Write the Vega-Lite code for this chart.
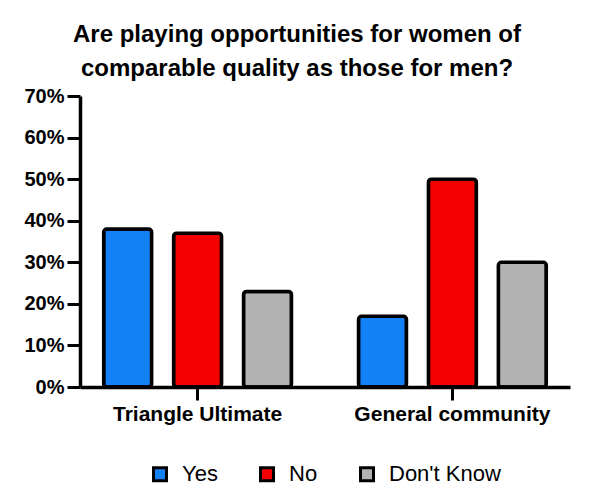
{
  "$schema": "https://vega.github.io/schema/vega-lite/v6.json",
  "autosize": "none",
  "padding": {"left": 80, "top": 96, "right": 27, "bottom": 117},
  "width": 490,
  "height": 291,
  "background": "white",
  "title": {
    "text": ["Are playing opportunities for women of", "comparable quality as those for men?"],
    "font": "Liberation Sans",
    "fontSize": 24,
    "fontWeight": "bold",
    "color": "black",
    "anchor": "middle",
    "dx": -28,
    "offset": 5,
    "lineHeight": 34
  },
  "data": {
    "values": [
      {"group": "Triangle Ultimate", "answer": "Yes", "share": 0.38},
      {"group": "Triangle Ultimate", "answer": "No", "share": 0.37},
      {"group": "Triangle Ultimate", "answer": "Don't Know", "share": 0.23},
      {"group": "General community", "answer": "Yes", "share": 0.17},
      {"group": "General community", "answer": "No", "share": 0.50},
      {"group": "General community", "answer": "Don't Know", "share": 0.30}
    ]
  },
  "mark": {"type": "bar", "stroke": "black", "strokeWidth": 3.5, "cornerRadius": 3},
  "encoding": {
    "x": {
      "field": "group",
      "type": "nominal",
      "sort": ["Triangle Ultimate", "General community"],
      "scale": {"paddingInner": 0.263, "paddingOuter": 0.093},
      "axis": {
        "title": null,
        "labelAngle": 0,
        "labelLimit": 0,
        "labelFont": "Liberation Sans",
        "labelFontSize": 21,
        "labelFontWeight": "bold",
        "labelColor": "black",
        "labelPadding": 3,
        "domainColor": "black",
        "domainWidth": 3.5,
        "tickColor": "black",
        "tickWidth": 3,
        "tickSize": 13
      }
    },
    "xOffset": {
      "field": "answer",
      "sort": ["Yes", "No", "Don't Know"],
      "scale": {"paddingInner": 0.314, "paddingOuter": 0}
    },
    "y": {
      "field": "share",
      "type": "quantitative",
      "scale": {"domain": [0, 0.7]},
      "axis": {
        "title": null,
        "format": ".0%",
        "values": [0, 0.1, 0.2, 0.3, 0.4, 0.5, 0.6, 0.7],
        "grid": false,
        "labelFont": "Liberation Sans",
        "labelFontSize": 20,
        "labelFontWeight": "bold",
        "labelColor": "black",
        "labelPadding": 3,
        "domainColor": "black",
        "domainWidth": 3.5,
        "tickColor": "black",
        "tickWidth": 3,
        "tickSize": 13
      }
    },
    "color": {
      "field": "answer",
      "type": "nominal",
      "sort": ["Yes", "No", "Don't Know"],
      "scale": {"domain": ["Yes", "No", "Don't Know"], "range": ["#1380F5", "#F50000", "#B2B2B2"]},
      "legend": {
        "title": null,
        "orient": "none",
        "direction": "horizontal",
        "legendX": 69,
        "legendY": 367,
        "symbolType": "square",
        "symbolSize": 169,
        "symbolStrokeColor": "black",
        "symbolStrokeWidth": 3,
        "symbolOpacity": 1,
        "labelFont": "Liberation Sans",
        "labelFontSize": 22,
        "labelColor": "black",
        "labelOffset": 11,
        "columnPadding": 36
      }
    }
  },
  "config": {"view": {"stroke": null}}
}
